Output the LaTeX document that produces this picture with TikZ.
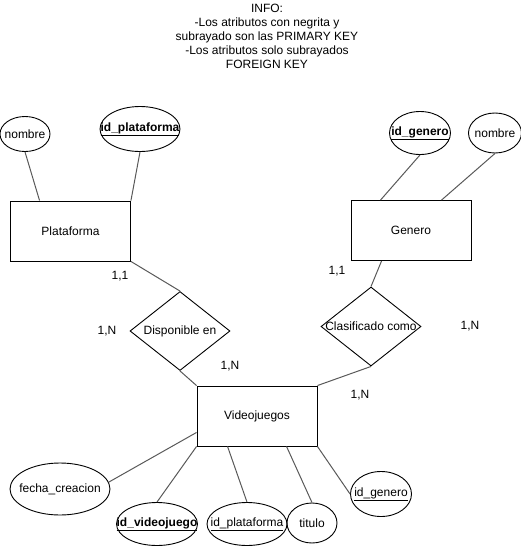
\documentclass[tikz,border=0pt]{standalone}
\usepackage{fontspec}
\setmainfont{Liberation Sans}
\usetikzlibrary{shapes.geometric,calc}

% text that may run past the outline of its shape
\newcommand{\zw}[1]{\makebox[0pt][c]{#1}}

\tikzset{
  entity/.style={draw=black, line width=0.9pt, rectangle, minimum width=120pt, minimum height=60pt, inner sep=0pt},
  attr/.style={draw=black, line width=0.9pt, ellipse, inner sep=0pt},
  relation/.style={draw=black, line width=0.9pt, diamond, inner sep=0pt, minimum width=100pt, minimum height=79pt},
  link/.style={draw=black!65, line width=1pt},
  card/.style={inner sep=0pt},
}

\begin{document}
\begin{tikzpicture}[x=1pt, y=-1pt, font=\fontsize{12}{14}\selectfont]
\useasboundingbox (0,0) rectangle (521,547);

% legend
\node[align=center, inner sep=0pt] (info) at (267,36)
  {INFO:\\-Los atributos con negrita y\\subrayado son las PRIMARY KEY\\-Los atributos solo subrayados\\FOREIGN KEY};

% entities
\node[entity] (plat) at (70.5,231) {Plataforma};
\node[entity] (gen) at (411,230.5) {Genero};
\node[entity] (vid) at (257,416) {Videojuegos};

% relationships
\node[relation] (disp) at (180,331) {\zw{Disponible en}};
\node[relation] (clas) at (371,326.5) {\zw{Clasificado como}};

% attributes of Plataforma
\node[attr, minimum width=50pt, minimum height=35pt] (nom1) at (25,134) {\zw{nombre}};
\node[attr, minimum width=80pt, minimum height=45pt] (idplat1) at (140,129) {\zw{\textbf{\underline{id\_plataforma}}}};

% attributes of Genero
\node[attr, minimum width=61pt, minimum height=43pt] (idgen1) at (420,133) {\zw{\textbf{\underline{id\_genero}}}};
\node[attr, minimum width=53pt, minimum height=40pt] (nom2) at (495,133) {\zw{nombre}};

% attributes of Videojuegos
\node[attr, minimum width=100pt, minimum height=52pt] (fecha) at (60,489) {\zw{fecha\_creacion}};
\node[attr, minimum width=81pt, minimum height=43pt] (idvid) at (157,524) {\zw{\textbf{\underline{id\_videojuego}}}};
\node[attr, minimum width=80pt, minimum height=43pt] (idplat2) at (247,524) {\zw{\underline{id\_plataforma}}};
\node[attr, minimum width=50pt, minimum height=40pt] (tit) at (312,523) {\zw{titulo}};
\node[attr, minimum width=61pt, minimum height=45pt] (idgen2) at (381,494) {\zw{\underline{id\_genero}}};

% cardinalities
\node[card] (c1) at (120,276) {1,1};
\node[card] (c2) at (107,331) {1,N};
\node[card] (c3) at (230,366) {1,N};
\node[card] (c4) at (337,271) {1,1};
\node[card] (c5) at (470,326) {1,N};
\node[card] (c6) at (360,395) {1,N};

% connectors
\draw[link] (nom1.south) -- ($(plat.north west)+(29.5,0)$);
\draw[link] (idplat1.south) -- (plat.north east);
\draw[link] (idgen1.south) -- ($(gen.north west)+(30,0)$);
\draw[link] (nom2.south) -- ($(gen.north west)+(91,0)$);
\draw[link] (plat.south east) -- (disp.north);
\draw[link] (disp.south) -- (vid.north west);
\draw[link] ($(gen.south west)+(31,0)$) -- (clas.north);
\draw[link] (clas.south) -- (vid.north east);
\draw[link] (fecha.8) -- ($(vid.south west)+(0,-14)$);
\draw[link] (idvid.north) -- (vid.south west);
\draw[link] (idplat2.north) -- ($(vid.south west)+(31,0)$);
\draw[link] (tit.north) -- ($(vid.south west)+(90,0)$);
\draw[link] (idgen2.west) -- (vid.south east);
\end{tikzpicture}
\end{document}
